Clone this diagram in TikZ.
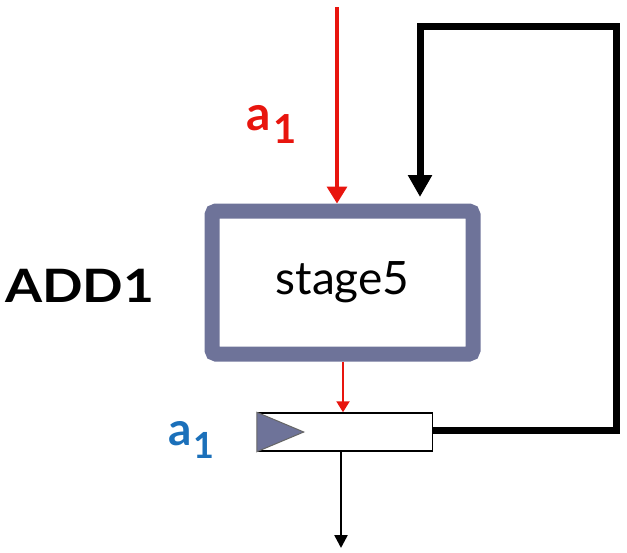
\documentclass[tikz,border=0pt]{standalone}
\usepackage{fontspec}
\setmainfont{Lato}
\usetikzlibrary{arrows.meta,calc}
\definecolor{boxc}{HTML}{6E7399}
\definecolor{redc}{HTML}{E8150E}
\definecolor{bluec}{HTML}{1B70BA}
\begin{document}
\begin{tikzpicture}[x=1pt,y=-1pt,
  stagebox/.style={draw=boxc,line width=15pt,rounded corners=4pt,minimum width=261pt,minimum height=143pt,inner sep=0pt,font=\fontsize{46}{46}\selectfont},
  regbox/.style={draw=black,line width=1.5pt,minimum width=175pt,minimum height=38pt,inner sep=0pt},
  bigred/.style={draw=redc,line width=3.5pt,-{Triangle[width=20pt,length=17pt]}},
  smallred/.style={draw=redc,line width=2.2pt,-{Triangle[width=13pt,length=11pt]}},
  feedback/.style={draw=black,line width=7pt,-{Triangle[width=23pt,length=22pt]}},
  outarrow/.style={draw=black,line width=2.5pt,-{Triangle[width=13pt,length=13pt]}},
  lbl/.style={inner sep=0pt,font=\bfseries\fontsize{48}{48}\selectfont}]
\useasboundingbox (0,0) rectangle (627,552);
\node[stagebox] (stage) at (342.5,282.5) {stage5};
\node[regbox] (reg) at (345,432) {};
\fill[boxc,draw=gray!80!black,line width=1pt] (reg.north west) -- (reg.south west) -- ($(reg.west)+(47,0)$) -- cycle;
\coordinate (in1) at (337,7);
\coordinate (out1) at (341,548);
\coordinate (c1) at (616,430);
\coordinate (c2) at (616,26);
\coordinate (c3) at (420,26);
\coordinate (c4) at (420,197);
\draw[bigred] (in1) -- (in1 |- stage.north);
\draw[feedback] (reg.east |- c1) -- (c1) -- (c2) -- (c3) -- (c4);
\draw[smallred] (stage.south -| 343,0) -- (reg.north -| 343,0);
\draw[outarrow] (reg.south -| out1) -- (out1);
\node[lbl,anchor=base west,font=\bfseries\fontsize{46}{46}\selectfont] (add) at (5,302) {\scalebox{1.16}[1]{ADD1}};
\node[lbl,text=redc,anchor=base west] (ared) at (246,130) {a\hspace{3pt}\raisebox{-13pt}{\fontsize{40}{40}\selectfont 1}};
\node[lbl,text=bluec,anchor=base west,font=\bfseries\fontsize{46}{46}\selectfont] (ablue) at (168,445) {a\hspace{2pt}\raisebox{-13pt}{\fontsize{36}{36}\selectfont 1}};
\end{tikzpicture}
\end{document}
